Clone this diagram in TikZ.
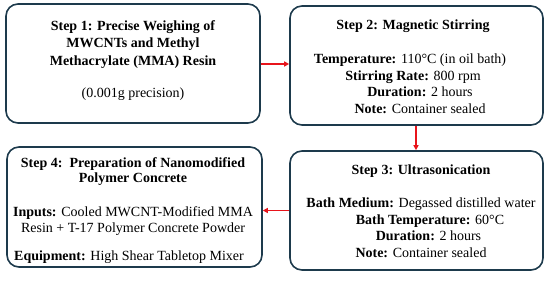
\documentclass[tikz,border=0pt]{standalone}
\usepackage{fontspec}
\setmainfont{Liberation Serif}
\usetikzlibrary{arrows.meta}
\definecolor{boxline}{HTML}{1D3A4C}
\definecolor{arrowred}{HTML}{E8141B}
\begin{document}
\begin{tikzpicture}[x=1pt,y=-1pt,
  stepbox/.style={draw=boxline,line width=1.6pt,rounded corners=12pt,inner sep=0pt},
  txt/.style={anchor=north,align=center,inner sep=0pt,font=\fontsize{14}{16.5}\selectfont},
  flow/.style={draw=arrowred,line width=1.3pt,-{Triangle[length=5pt,width=5pt]}}]
\useasboundingbox (0,0) rectangle (550,281);
\node[stepbox,minimum width=254pt,minimum height=119pt] (b1) at (133,63.5) {};
\node[stepbox,minimum width=253pt,minimum height=119pt] (b2) at (416.5,65.5) {};
\node[stepbox,minimum width=253pt,minimum height=119pt] (b3) at (416.5,210.5) {};
\node[stepbox,minimum width=255pt,minimum height=120pt] (b4) at (134.5,207) {};
\node[txt,font=\fontsize{14}{17.5}\selectfont] (t1) at (133,20) {\textbf{Step 1: Precise Weighing of}\\\textbf{MWCNTs and Methyl}\\\textbf{Methacrylate (MMA) Resin}\\[14.5pt](0.001g precision)};
\node[txt] (t2) at (413,20) {\textbf{Step 2: Magnetic Stirring}\\[17.5pt]\hspace*{-6pt}\textbf{Temperature:} 110°C (in oil bath)\\\textbf{Stirring Rate:} 800 rpm\\\hspace*{14pt}\textbf{Duration:} 2 hours\\\hspace*{14pt}\textbf{Note:} Container sealed};
\node[txt] (t3) at (421,165) {\textbf{Step 3: Ultrasonication}\\[16.5pt]\textbf{Bath Medium:} Degassed distilled water\\\hspace*{18pt}\textbf{Bath Temperature:} 60°C\\\hspace*{15pt}\textbf{Duration:} 2 hours\\\textbf{Note:} Container sealed};
\node[txt,font=\fontsize{14}{15.5}\selectfont] (t4) at (133,157) {\textbf{Step 4:\ \ Preparation of Nanomodified}\\\textbf{Polymer Concrete}\\[18.5pt]\textbf{Inputs:} Cooled MWCNT-Modified MMA\\Resin + T-17 Polymer Concrete Powder\\[12.5pt]\hspace*{-8pt}\textbf{Equipment:} High Shear Tabletop Mixer};
\draw[flow] ([yshift=-0.5pt]b1.east) -- ([yshift=-0.5pt]b1.east -| b2.west);
\draw[flow] ([xshift=-0.5pt]b2.south) -- ([xshift=-0.5pt]b2.south |- b3.north);
\draw[flow] (b3.west) -- (b3.west -| b4.east);
\end{tikzpicture}
\end{document}
